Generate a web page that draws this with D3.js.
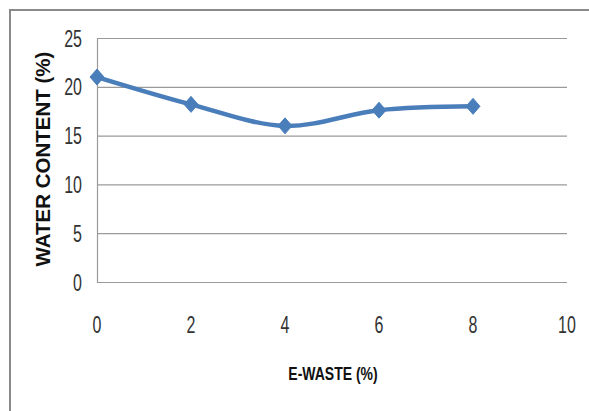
<!DOCTYPE html>
<html><head><meta charset="utf-8">
<script src="https://cdn.jsdelivr.net/npm/d3@7"></script>
<style>body{margin:0;background:#fff;} svg{display:block;}</style>
</head><body>
<svg id="c" width="589" height="411"></svg>
<script>
const xValues = [0, 2, 4, 6, 8];
const waterContent = [21.0, 18.2, 16.0, 17.6, 18.0];
const xTicks = [0, 2, 4, 6, 8, 10];
const yTicks = [0, 5, 10, 15, 20, 25];
const xTitle = "E-WASTE (%)";
const yTitle = "WATER CONTENT (%)";

const svg = d3.select("#c");
const font = "'Liberation Sans',Arial,sans-serif";

// outer frame (cut at right/bottom)
svg.append("path").attr("d","M10,420 L10,10 L600,10").attr("fill","none").attr("stroke","#8a8a8a").attr("stroke-width",2);

const x = d3.scaleLinear().domain([0,10]).range([97,567]);
const y = d3.scaleLinear().domain([0,25]).range([282,38]);

// gridlines
svg.append("g").selectAll("line").data(yTicks).join("line")
  .attr("x1",x(0)).attr("x2",x(10)).attr("y1",d=>y(d)+0.5).attr("y2",d=>y(d)+0.5)
  .attr("stroke","#9a9a9a").attr("stroke-width",1.2);
// left axis line
svg.append("line").attr("x1",x(0)+0.5).attr("x2",x(0)+0.5).attr("y1",y(25)).attr("y2",y(0)+1)
  .attr("stroke","#9a9a9a").attr("stroke-width",1.2);

// y tick labels
svg.append("g").selectAll("text").data(yTicks).join("text")
  .attr("transform",d=>`translate(82,${y(d)+8.5}) scale(1,1.45)`)
  .attr("text-anchor","end").attr("font-family",font).attr("font-size",16).attr("fill","#333")
  .text(d=>d);
// x tick labels
svg.append("g").selectAll("text").data(xTicks).join("text")
  .attr("transform",d=>`translate(${x(d)},333) scale(1,1.45)`)
  .attr("text-anchor","middle").attr("font-family",font).attr("font-size",16).attr("fill","#333")
  .text(d=>d);

// titles
svg.append("text").attr("transform","translate(333,380) scale(1,1.3)")
  .attr("text-anchor","middle").attr("font-family",font).attr("font-weight","bold")
  .attr("font-size",14).attr("fill","#111").text(xTitle);
svg.append("text").attr("transform","translate(50,159) rotate(-90)")
  .attr("text-anchor","middle").attr("font-family",font).attr("font-weight","bold")
  .attr("font-size",20.5).attr("fill","#111").text(yTitle);

// line
const pts = xValues.map((v,i)=>[v,waterContent[i]]);
svg.append("path").datum(pts)
  .attr("d", d3.line().x(d=>x(d[0])).y(d=>y(d[1])).curve(d3.curveCatmullRom.alpha(0)))
  .attr("fill","none").attr("stroke","#4a7ebb").attr("stroke-width",4.5).attr("stroke-linejoin","round");

// diamond markers
svg.append("g").selectAll("path").data(pts).join("path")
  .attr("d",d=>{const cx=x(d[0]), cy=y(d[1]); return `M${cx},${cy-8} L${cx+7},${cy} L${cx},${cy+8} L${cx-7},${cy} Z`;})
  .attr("fill","#4a7ebb").attr("stroke","#4a7ebb").attr("stroke-width",1);
</script>
</body></html>
